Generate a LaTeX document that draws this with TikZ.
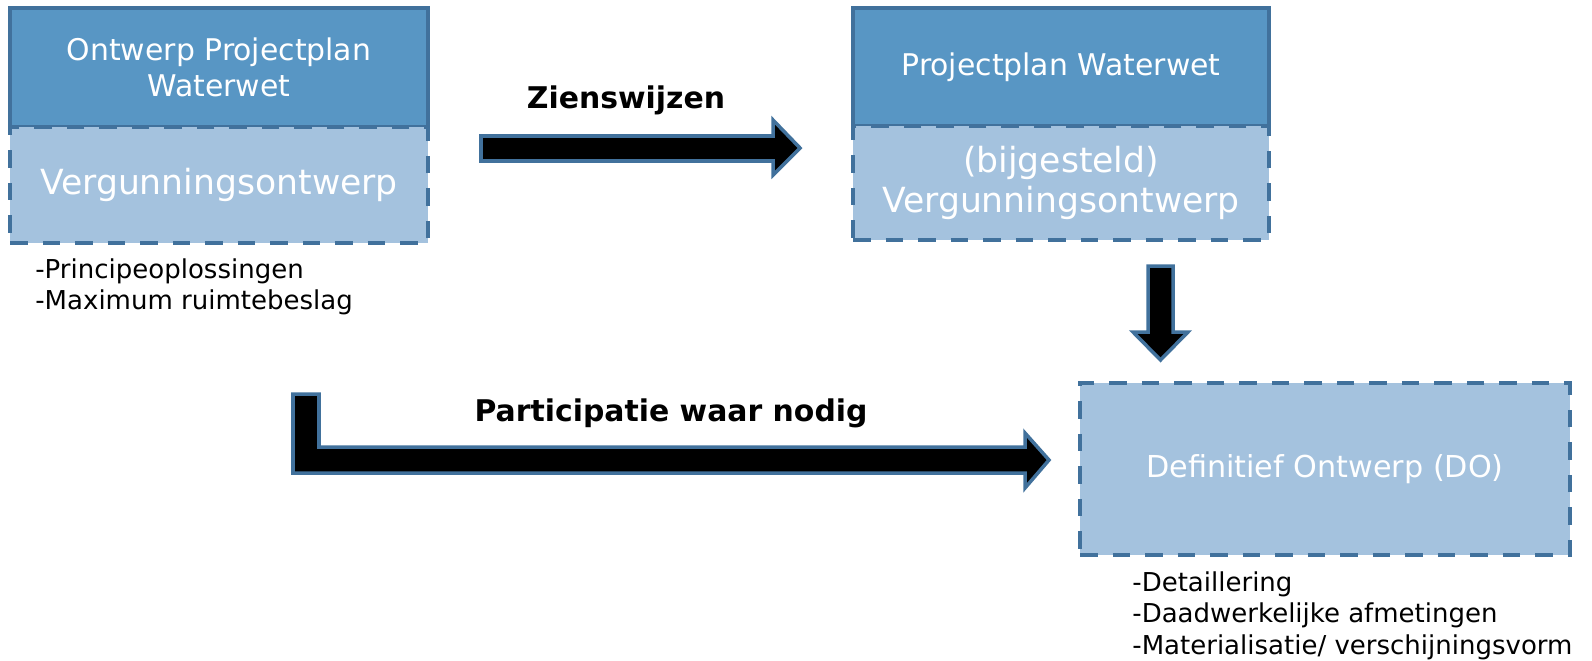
\documentclass[tikz,border=0pt]{standalone}
\usepackage{fontspec}
\setmainfont{DejaVu Sans}
\usetikzlibrary{positioning}
\definecolor{topblue}{HTML}{5896C4}
\definecolor{lowblue}{HTML}{A4C2DE}
\definecolor{edgeblue}{HTML}{41719C}

\begin{document}
\begin{tikzpicture}[x=0.02cm,y=-0.02cm,
  topbox/.style={draw=edgeblue,fill=topblue,line width=2.2pt,text=white,align=center,inner sep=0pt,outer sep=0pt,font=\fontsize{17}{20.5}\selectfont},
  lowbox/.style={draw=edgeblue,fill=lowblue,line width=2.4pt,dash pattern=on 10pt off 8.5pt,text=white,align=center,inner sep=0pt,outer sep=0pt,font=\fontsize{19.7}{23}\selectfont},
  blockarrow/.style={draw=edgeblue,fill=black,line width=2pt,line join=miter},
  notes/.style={align=left,anchor=north west,inner sep=0pt,font=\fontsize{14.8}{17.9}\selectfont},
  arrowlabel/.style={font=\bfseries\fontsize{17}{20}\selectfont}]
\useasboundingbox (0,0) rectangle (1592,660);

% links: ontwerp
\node[topbox,minimum width=8.36cm,minimum height=2.38cm] (ontwerp) at (219,67.5) {Ontwerp Projectplan\\Waterwet};
\node[lowbox,minimum width=8.36cm,minimum height=2.32cm,below=0pt of ontwerp] (vergunning) {Vergunningsontwerp};
\node[notes] (principe) at (35,258) {-Principeoplossingen\\-Maximum ruimtebeslag};

% rechts: projectplan
\node[topbox,minimum width=8.32cm,minimum height=2.36cm] (projectplan) at (1061,67) {Projectplan Waterwet};
\node[lowbox,minimum width=8.32cm,minimum height=2.28cm,below=0pt of projectplan] (bijgesteld) {(bijgesteld)\\Vergunningsontwerp};

% definitief ontwerp
\node[lowbox,minimum width=9.8cm,minimum height=3.44cm,font=\fontsize{17.2}{21}\selectfont] (DO) at (1325,469) {Definitief Ontwerp (DO)};
\node[notes] (detail) at (1132,571) {-Detaillering\\-Daadwerkelijke afmetingen\\-Materialisatie/ verschijningsvorm};

% pijlen
\draw[blockarrow] (481,136) -- (773,136) -- (773,120) -- (800,148) -- (773,175) -- (773,161) -- (481,161) -- cycle;
\node[arrowlabel] (zien) at (626,100) {Zienswijzen};

\draw[blockarrow] (1148,266) -- (1173,266) -- (1173,332) -- (1188,332) -- (1160.5,360) -- (1133,332) -- (1148,332) -- cycle;

\draw[blockarrow] (293,394) -- (319,394) -- (319,447) -- (1025,447) -- (1025,433) -- (1049,460) -- (1025,488) -- (1025,473) -- (293,473) -- cycle;
\node[arrowlabel] (participatie) at (671,413) {Participatie waar nodig};
\end{tikzpicture}
\end{document}
